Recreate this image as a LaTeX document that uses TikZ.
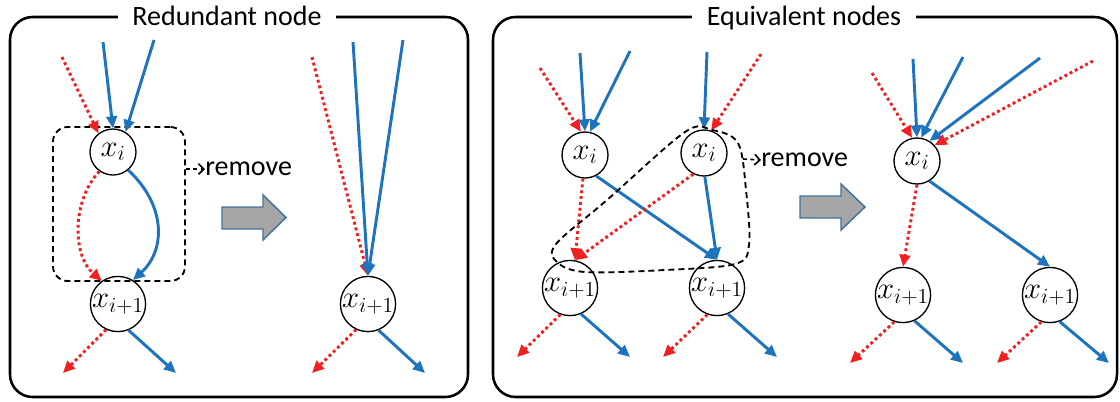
\RequirePackage{fix-cm}
\documentclass[tikz,border=0pt]{standalone}
\usepackage[no-math]{fontspec}
\setmainfont{Carlito}
\usetikzlibrary{arrows.meta}
\definecolor{azulf}{RGB}{30,115,190}
\definecolor{rojof}{RGB}{240,32,32}
\definecolor{grisf}{RGB}{166,166,166}
\definecolor{bordef}{RGB}{65,113,156}
\tikzset{
  nodo/.style={circle, draw, line width=1pt, minimum size=34.5pt, inner sep=0pt,
    font=\fontsize{23}{26}\selectfont},
  azul/.style={draw=azulf, line width=2.2pt, -{Triangle[length=9pt,width=8pt]}},
  rojo/.style={draw=rojof, line width=2.2pt, dash pattern=on 2.2pt off 2.2pt,
    -{Triangle[length=9pt,width=8pt]}},
  marco/.style={draw, line width=1.9pt, rounded corners=17pt},
  titulo/.style={anchor=base, fill=white, inner xsep=11pt, inner ysep=2pt,
    font=\fontsize{21}{25}\selectfont},
  discont/.style={draw, line width=1.4pt, dash pattern=on 4.5pt off 3pt},
  grupo/.style={discont, rounded corners=11pt},
  quitar/.style={anchor=west, inner sep=0pt, font=\fontsize{21}{25}\selectfont},
  remov/.style={line width=1.2pt, dash pattern=on 3pt off 2.5pt,
    -{Straight Barb[length=4pt,width=8pt]}},
  flecha/.style={fill=grisf, draw=bordef, line width=1.1pt}
}
\begin{document}
\begin{tikzpicture}[x=0.75pt,y=-0.75pt]
  \useasboundingbox (0,0) rectangle (1120,401);

  % Marco izquierdo: nodo redundante
  \draw[marco] (10,17) rectangle (468,397);
  \node[titulo] (tit1) at (227,25) {Redundant node};

  % Nodos antes de quitar
  \node[nodo] (xi1) at (113,152) {$x_i$};
  \node[nodo] (xj1) at (118,304) {$x_{i+1}$};
  \node[grupo, minimum width=99pt, minimum height=115.5pt] (rm1) at (119,204) {};

  % Aristas de entrada
  \coordinate (r1) at (62,57);
  \coordinate (a1) at (103,42);
  \coordinate (a2) at (154,40);
  \draw[rojo] (r1) -- (xi1.128);
  \draw[azul] (a1) -- (xi1.north);
  \draw[azul] (a2) -- (xi1.58);

  % Aristas entre x_i y x_{i+1}
  \draw[rojo] (xi1.235) .. controls (72,200) and (72,255) .. (xj1.125);
  \draw[azul] (xi1.-50) .. controls (166,205) and (166,250) .. (xj1.58);

  % Aristas de salida
  \coordinate (s1) at (63,373);
  \coordinate (s2) at (176,373);
  \draw[rojo] (xj1.245) -- (s1);
  \draw[azul] (xj1.-68) -- (s2);

  % Etiqueta remove
  \node[quitar] (q1) at (205,169) {remove};
  \draw[remov] (rm1.east |- q1.west) -- (q1.west);

  % Flecha gris
  \draw[flecha] (222,207) -- ++(41,0) -- ++(0,-12) -- ++(23,22.5) -- ++(-23,22.5)
    -- ++(0,-11) -- ++(-41,0) -- cycle;

  % Resultado
  \node[nodo] (xj2) at (368,304) {$x_{i+1}$};
  \coordinate (r2) at (312,57);
  \coordinate (a3) at (353,42);
  \coordinate (a4) at (403,40);
  \draw[rojo] (r2) -- (xj2.north);
  \draw[azul] (a3) -- (xj2.north);
  \draw[azul] (a4) -- (xj2.north);
  \coordinate (s3) at (312,373);
  \coordinate (s4) at (425,373);
  \draw[rojo] (xj2.245) -- (s3);
  \draw[azul] (xj2.-68) -- (s4);

  % Marco derecho: nodos equivalentes
  \draw[marco] (493,17) rectangle (1117,397);
  \node[titulo] (tit2) at (804,25) {Equivalent nodes};

  % Nodos antes de fusionar
  \node[nodo] (xi3) at (585,155) {$x_i$};
  \node[nodo] (xi4) at (704,153) {$x_i$};
  \node[nodo] (xj3) at (570,288) {$x_{i+1}$};
  \node[nodo] (xj4) at (717,288) {$x_{i+1}$};

  % Aristas de entrada
  \coordinate (r3) at (540,68);
  \coordinate (a5) at (580,53);
  \coordinate (a6) at (630,51);
  \coordinate (a7) at (707,52);
  \coordinate (r4) at (761,54);
  \draw[rojo] (r3) -- (xi3.100);
  \draw[azul] (a5) -- (xi3.north);
  \draw[azul] (a6) -- (xi3.78);
  \draw[azul] (a7) -- (xi4.north);
  \draw[rojo] (r4) -- (xi4.72);

  % Aristas cruzadas
  \draw[rojo] (xi3.265) -- (xj3.80);
  \draw[azul] (xi3.-62) -- (xj4.north);
  \draw[rojo] (xi4.243) -- (xj3.80);
  \draw[azul] (xi4.-88) -- (xj4.north);

  % Aristas de salida
  \coordinate (s5) at (517,357);
  \coordinate (s6) at (630,357);
  \coordinate (s7) at (663,357);
  \coordinate (s8) at (777,357);
  \draw[rojo] (xj3.250) -- (s5);
  \draw[azul] (xj3.-67) -- (s6);
  \draw[rojo] (xj4.250) -- (s7);
  \draw[azul] (xj4.-67) -- (s8);

  % Contorno del nodo a quitar
  \draw[discont] plot [smooth cycle, tension=0.55] coordinates {
    (685,132) (712,130) (738,143) (746,190) (749,245) (735,264)
    (665,270) (585,272) (557,262) (556,244) (607,200)
  };
  \coordinate (rm2) at (743,159);
  \node[quitar] (q2) at (761,160) {remove};
  \draw[remov] (rm2) -- (q2.west);

  % Flecha gris
  \draw[flecha] (800,196) -- ++(41,0) -- ++(0,-12) -- ++(24,23) -- ++(-24,23)
    -- ++(0,-12) -- ++(-41,0) -- cycle;

  % Resultado de la fusion
  \node[nodo] (xi5) at (917,161) {$x_i$};
  \node[nodo] (xj5) at (903,295) {$x_{i+1}$};
  \node[nodo] (xj6) at (1050,295) {$x_{i+1}$};
  \coordinate (r5) at (872,73);
  \coordinate (a8) at (913,59);
  \coordinate (a9) at (963,57);
  \coordinate (a10) at (1040,58);
  \coordinate (r6) at (1093,61);
  \draw[rojo] (r5) -- (xi5.102);
  \draw[azul] (a8) -- (xi5.north);
  \draw[azul] (a9) -- (xi5.80);
  \draw[azul] (a10) -- (xi5.58);
  \draw[rojo] (r6) -- (xi5.42);
  \draw[rojo] (xi5.south) -- (xj5.north);
  \draw[azul] (xi5.-58) -- (xj6.north);
  \coordinate (s9) at (850,363);
  \coordinate (s10) at (963,363);
  \coordinate (s11) at (997,363);
  \coordinate (s12) at (1109,363);
  \draw[rojo] (xj5.252) -- (s9);
  \draw[azul] (xj5.-66) -- (s10);
  \draw[rojo] (xj6.252) -- (s11);
  \draw[azul] (xj6.-70) -- (s12);
\end{tikzpicture}
\end{document}
